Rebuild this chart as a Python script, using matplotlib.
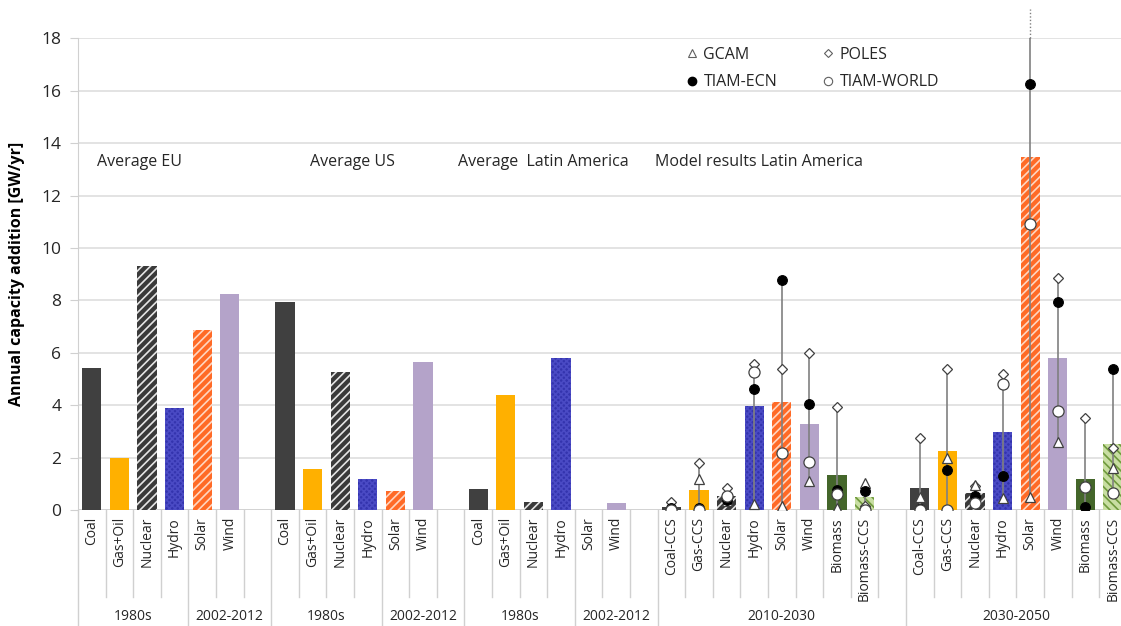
import matplotlib
matplotlib.use("Agg")
import matplotlib.pyplot as plt
from matplotlib.lines import Line2D
import matplotlib.transforms as mtransforms

plt.rcParams["font.family"] = ["Open Sans", "DejaVu Sans"]
plt.rcParams["hatch.linewidth"] = 1.2

# ---------------- data ----------------
hist_techs = ["Coal", "Gas+Oil", "Nuclear", "Hydro", "Solar", "Wind"]
eu_avg = [5.42, 1.98, 9.32, 3.90, 6.88, 8.25]
us_avg = [7.95, 1.57, 5.28, 1.18, 0.72, 5.63]
latam_avg = [0.79, 4.40, 0.32, 5.79, 0.0, 0.28]

model_techs = ["Coal-CCS", "Gas-CCS", "Nuclear", "Hydro", "Solar", "Wind",
               "Biomass", "Biomass-CCS"]
mean_2010_2030 = [0.10, 0.76, 0.53, 3.95, 4.13, 3.28, 1.35, 0.48]
mean_2030_2050 = [0.83, 2.25, 0.66, 2.98, 13.46, 5.80, 1.17, 2.52]

gcam_2010_2030 = [0.0, 1.17, 0.36, 0.22, 0.15, 1.10, 0.06, 1.04]
poles_2010_2030 = [0.32, 1.78, 0.83, 5.57, 5.38, 5.98, 3.92, 0.14]
ecn_2010_2030 = [0.08, 0.09, 0.40, 4.62, 8.78, 4.05, 0.75, 0.74]
world_2010_2030 = [0.0, 0.0, 0.53, 5.25, 2.16, 1.82, 0.61, 0.0]

gcam_2030_2050 = [0.48, 1.97, 0.94, 0.45, 0.48, 2.61, 0.02, 1.59]
poles_2030_2050 = [2.76, 5.38, 0.90, 5.19, 26.2, 8.87, 3.50, 2.35]
ecn_2030_2050 = [0.05, 1.53, 0.53, 1.31, 16.25, 7.95, 0.13, 5.37]
world_2030_2050 = [0.0, 0.0, 0.28, 4.80, 10.90, 3.78, 0.89, 0.64]

region_titles = ["Average EU", "Average US", "Average  Latin America",
                 "Model results Latin America"]
period_labels = ["1980s", "2002-2012", "1980s", "2002-2012", "1980s",
                 "2002-2012", "2010-2030", "2030-2050"]

# ---------------- styles ----------------
tech_style = {
    "Coal": dict(color="#404040"),
    "Gas+Oil": dict(color="#ffb000"),
    "Coal-CCS": dict(color="#404040"),
    "Gas-CCS": dict(color="#ffb000"),
    "Nuclear": dict(color="#3a3a3a", hatch="////", edgecolor="#e6e6e6"),
    "Hydro": dict(color="#3434ae", hatch="xxxxxx", edgecolor="#4a4ac4"),
    "Solar": dict(color="#ff6a26", hatch="////", edgecolor="#ffd6c0"),
    "Wind": dict(color="#b4a3c9"),
    "Biomass": dict(color="#44662a"),
    "Biomass-CCS": dict(color="#c8dea2", hatch="\\\\\\\\", edgecolor="#6f9a3c"),
}

W, H, DPI = 11.21, 6.26, 100
fig = plt.figure(figsize=(W, H), dpi=DPI)
left_px, right_px, top_px, bot_px = 78, 1121, 38.3, 510
ax = fig.add_axes([left_px / 1121, 1 - bot_px / 626,
                   (right_px - left_px) / 1121, (bot_px - top_px) / 626])

slot_w = 27.6
ax.set_xlim(-0.5, -0.5 + (right_px - left_px) / slot_w)
ax.set_ylim(0, 18)


def draw_bar(x, v, tech):
    st = dict(tech_style[tech])
    fc = st.pop("color")
    kw = dict(width=0.7, color=fc, linewidth=0, zorder=2)
    if "hatch" in st:
        kw.update(hatch=st["hatch"], edgecolor=st["edgecolor"])
    ax.bar(x, v, **kw)


labels = [""] * 38
positions = list(range(38))

# historical averages
for start, vals in zip([0, 7, 14], [eu_avg, us_avg, latam_avg]):
    for i, (t, v) in enumerate(zip(hist_techs, vals)):
        labels[start + i] = t
        if v > 0:
            draw_bar(start + i, v, t)

# model results: bar = mean, line = model range, markers = individual models
ymax = 18
model_sets = [
    (21, mean_2010_2030, gcam_2010_2030, poles_2010_2030, ecn_2010_2030, world_2010_2030),
    (30, mean_2030_2050, gcam_2030_2050, poles_2030_2050, ecn_2030_2050, world_2030_2050),
]
for start, means, g, p, e, w in model_sets:
    xs = [start + i for i in range(len(model_techs))]
    for i, t in enumerate(model_techs):
        labels[start + i] = t
        draw_bar(xs[i], means[i], t)
        vals = [g[i], p[i], e[i], w[i]]
        lo, hi = min(vals), max(vals)
        ax.plot([xs[i], xs[i]], [lo, min(hi, ymax)], color="#808080", lw=1.2,
                zorder=3, solid_capstyle="butt")
        if hi > ymax:
            ax.plot([xs[i], xs[i]], [ymax, ymax + 1.1], color="#808080", lw=1.0,
                    ls=(0, (1, 1.5)), zorder=3, clip_on=False)
    ax.plot(xs, p, ls="none", marker="D", ms=5.5, mfc="white", mec="#404040",
            mew=0.9, zorder=4)
    ax.plot(xs, g, ls="none", marker="^", ms=7.5, mfc="white", mec="#404040",
            mew=0.9, zorder=5)
    ax.plot(xs, e, ls="none", marker="o", ms=7, mfc="black", mec="black",
            mew=0.8, zorder=6)
    ax.plot(xs, w, ls="none", marker="o", ms=8, mfc="white", mec="#404040",
            mew=0.9, zorder=7)

# axes styling
ax.set_yticks(range(0, 19, 2))
ax.tick_params(axis="y", labelsize=12.5, length=6, color="#d0d0d0",
               labelcolor="#262626", pad=6)
ax.grid(axis="y", color="#dedede", lw=1.2, zorder=0)
ax.set_axisbelow(True)
for s in ["top", "right", "bottom"]:
    ax.spines[s].set_visible(False)
ax.spines["left"].set_color("#d0d0d0")
ax.axhline(0, color="#d0d0d0", lw=1.2, zorder=1)

ax.set_xticks(positions)
ax.set_xticklabels(labels, rotation=90, fontsize=10, color="#262626")
ax.tick_params(axis="x", length=0, pad=5)

ax.set_ylabel("Annual capacity addition [GW/yr]", fontsize=11.5,
              fontweight="bold", labelpad=12)

# category separators beneath the axis
trans = mtransforms.blended_transform_factory(ax.transData, ax.transAxes)
ax_h = bot_px - top_px
y_mid = -(597 - bot_px) / ax_h
y_bot = -(626 - bot_px) / ax_h
group_bounds = [0, 4, 7, 11, 14, 18, 21, 30, 38]
for b in range(0, 38):
    y_end = y_bot if b in group_bounds else y_mid
    ax.plot([b - 0.5, b - 0.5], [0, y_end], transform=trans, color="#d0d0d0",
            lw=1.0, clip_on=False)

for (a, b), lab in zip(zip(group_bounds[:-1], group_bounds[1:]), period_labels):
    cx = (a + b) / 2 - 0.5
    ax.text(cx, -(617 - bot_px) / ax_h, lab, transform=trans, ha="center",
            va="center", fontsize=10, color="#262626")

# region titles
for x0, title in zip([0.19, 7.9, 13.27, 20.4], region_titles):
    ax.text(x0, 13.28, title, fontsize=11.5, va="center", ha="left",
            color="#262626")

# legend
handles = [
    Line2D([], [], ls="none", marker="^", ms=6, mfc="white", mec="#606060", mew=0.8),
    Line2D([], [], ls="none", marker="o", ms=6, mfc="black", mec="black"),
    Line2D([], [], ls="none", marker="D", ms=4.5, mfc="white", mec="#606060", mew=0.8),
    Line2D([], [], ls="none", marker="o", ms=6, mfc="white", mec="#606060", mew=0.8),
]
leg = ax.legend(handles, ["GCAM", "TIAM-ECN", "POLES", "TIAM-WORLD"], ncol=2,
                loc="upper left", bbox_to_anchor=(0.569, 1.012), frameon=False,
                fontsize=11.5, handlelength=0.8, handletextpad=0.3,
                columnspacing=2.8, labelspacing=0.7)
for t in leg.get_texts():
    t.set_color("#262626")

fig.savefig("out.png", dpi=DPI)
